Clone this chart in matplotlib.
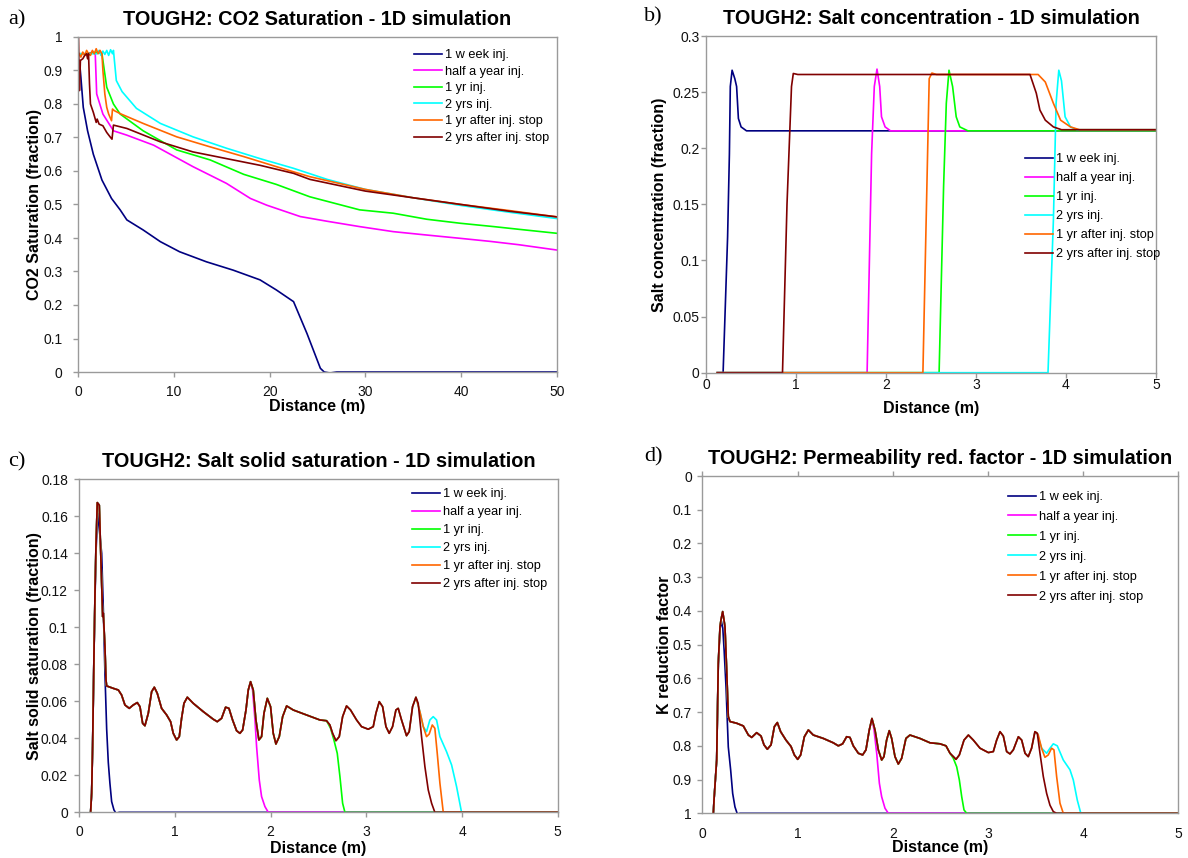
import matplotlib
matplotlib.use("Agg")
import matplotlib.pyplot as plt
import numpy as np
from matplotlib.ticker import FuncFormatter, MultipleLocator

plt.rcParams["font.family"] = ["Liberation Sans", "DejaVu Sans"]

W, H = 1188, 858

labels = ["1 w eek inj.", "half a year inj.", "1 yr inj.", "2 yrs inj.",
          "1 yr after inj. stop", "2 yrs after inj. stop"]
colors = ["#000080", "#FF00FF", "#00FF00", "#00FFFF", "#FF6600", "#800000"]

# ---- a) CO2 saturation, distance 0-50 m ----
co2_week_x = [0.15, 0.3, 0.55, 1.0, 1.6, 2.5, 3.5, 4.4, 5.1, 6.8, 8.6, 10.6, 13.4, 16.2, 19.0,
              20.7, 22.5, 23.9, 25.3, 25.7, 26.3, 27.0, 50.0]
co2_week_y = [0.93, 0.88, 0.79, 0.72, 0.65, 0.573, 0.518, 0.484, 0.454, 0.424, 0.389, 0.359, 0.329,
              0.304, 0.275, 0.245, 0.21, 0.115, 0.011, 0.0, -0.003, 0.0, 0.0]
co2_half_x = [0.1, 0.5, 1.0, 1.5, 1.8, 1.95, 2.6, 3.7, 5.1, 7.9, 12.0, 15.5, 18.0, 19.7, 23.2, 26.0,
              29.4, 32.9, 36.0, 39.9, 43.0, 46.0, 50.0]
co2_half_y = [0.95, 0.95, 0.95, 0.955, 0.95, 0.83, 0.77, 0.72, 0.707, 0.677, 0.613, 0.563, 0.518,
              0.498, 0.464, 0.45, 0.434, 0.419, 0.41, 0.399, 0.39, 0.38, 0.364]
co2_1yr_x = [0.1, 1.0, 2.0, 2.5, 3.0, 3.7, 4.4, 6.8, 10.3, 13.8, 17.3, 20.7, 24.2, 29.4, 32.9, 36.4,
             39.9, 43.4, 46.0, 50.0]
co2_1yr_y = [0.95, 0.95, 0.955, 0.95, 0.85, 0.80, 0.77, 0.72, 0.663, 0.633, 0.59, 0.56, 0.523, 0.484,
             0.474, 0.456, 0.444, 0.434, 0.426, 0.414]
co2_2yr_x = [0.1, 2.0, 2.2, 2.4, 2.6, 2.8, 3.0, 3.2, 3.4, 3.6, 3.7, 4.0, 4.6, 6.1, 8.6, 12.0, 15.5,
             19.0, 22.5, 26.0, 30.0, 35.0, 40.0, 45.0, 50.0]
co2_2yr_y = [0.95, 0.95, 0.96, 0.945, 0.958, 0.948, 0.96, 0.945, 0.962, 0.95, 0.96, 0.87, 0.837,
             0.787, 0.742, 0.702, 0.668, 0.637, 0.608, 0.575, 0.545, 0.52, 0.497, 0.477, 0.458]
co2_1after_x = [0.1, 0.3, 0.5, 0.7, 0.9, 1.1, 1.3, 1.5, 1.7, 1.9, 2.1, 2.3, 2.5, 2.6, 2.8, 3.0, 3.2,
                3.5, 3.6, 3.8, 4.5, 6.8, 10.3, 13.8, 17.3, 20.7, 24.2, 30.0, 35.0, 40.0, 45.0, 50.0]
co2_1after_y = [0.95, 0.94, 0.955, 0.945, 0.96, 0.95, 0.945, 0.96, 0.95, 0.965, 0.95, 0.96, 0.95,
                0.90, 0.83, 0.79, 0.77, 0.75, 0.785, 0.78, 0.77, 0.742, 0.702, 0.672, 0.643, 0.613,
                0.583, 0.545, 0.52, 0.50, 0.482, 0.463]
co2_2after_x = [0.05, 0.15, 0.25, 0.5, 0.7, 0.9, 1.0, 1.1, 1.2, 1.3, 1.6, 1.9, 2.0, 2.2, 2.6, 3.0,
                3.4, 3.55, 3.7, 5.1, 8.6, 12.0, 15.5, 19.0, 22.5, 24.2, 30.0, 35.0, 40.0, 45.0, 50.0]
co2_2after_y = [1.0, 0.84, 0.93, 0.935, 0.945, 0.95, 0.935, 0.95, 0.86, 0.80, 0.775, 0.745, 0.755,
                0.74, 0.735, 0.715, 0.70, 0.695, 0.737, 0.727, 0.687, 0.657, 0.637, 0.617, 0.593,
                0.575, 0.54, 0.52, 0.50, 0.48, 0.463]

# ---- b) salt concentration, distance 0-5 m ----
salt_week_x = [0.125, 0.19, 0.24, 0.26, 0.27, 0.29, 0.32, 0.34, 0.36, 0.39, 0.45, 5.0]
salt_week_y = [0, 0, 0.121, 0.195, 0.255, 0.2695, 0.262, 0.255, 0.2265, 0.219, 0.2155, 0.2155]
salt_half_x = [0.125, 1.79, 1.84, 1.87, 1.90, 1.93, 1.95, 1.99, 2.05, 5.0]
salt_half_y = [0, 0, 0.195, 0.255, 0.2705, 0.255, 0.228, 0.219, 0.2155, 0.2155]
salt_1yr_x = [0.125, 2.59, 2.64, 2.67, 2.70, 2.74, 2.78, 2.82, 2.91, 5.0]
salt_1yr_y = [0, 0, 0.166, 0.24, 0.2695, 0.255, 0.228, 0.219, 0.2155, 0.2155]
salt_2yr_x = [0.125, 3.80, 3.86, 3.89, 3.92, 3.95, 3.99, 4.05, 4.12, 5.0]
salt_2yr_y = [0, 0, 0.136, 0.24, 0.2695, 0.26, 0.228, 0.219, 0.2165, 0.2165]
salt_1after_x = [0.125, 2.41, 2.45, 2.48, 2.51, 2.56, 3.69, 3.77, 3.86, 3.94, 4.05, 4.15, 5.0]
salt_1after_y = [0, 0, 0.15, 0.262, 0.267, 0.2657, 0.2657, 0.259, 0.240, 0.225, 0.219, 0.2165, 0.2165]
salt_2after_x = [0.125, 0.85, 0.90, 0.95, 0.97, 1.02, 3.60, 3.67, 3.71, 3.77, 3.86, 3.95, 5.0]
salt_2after_y = [0, 0, 0.15, 0.255, 0.2666, 0.2657, 0.2657, 0.249, 0.234, 0.225, 0.219, 0.2165, 0.2165]

# ---- c) salt solid saturation: common profile left behind, plus each front ----
solid_base = np.array([
    [0.118, 0.0], [0.129, 0.0103], [0.139, 0.0355], [0.153, 0.084], [0.164, 0.118],
    [0.174, 0.1436], [0.188, 0.1674], [0.209, 0.166], [0.223, 0.1418], [0.244, 0.1058],
    [0.251, 0.1076], [0.268, 0.0895], [0.279, 0.0715], [0.286, 0.0683], [0.355, 0.067],
    [0.408, 0.0661], [0.442, 0.0634], [0.477, 0.058], [0.522, 0.0562], [0.564, 0.058],
    [0.606, 0.0593], [0.634, 0.0571], [0.662, 0.0481], [0.686, 0.0468], [0.721, 0.0535],
    [0.756, 0.0652], [0.784, 0.0676], [0.815, 0.0643], [0.860, 0.0562], [0.913, 0.0526],
    [0.954, 0.049], [0.982, 0.0427], [1.017, 0.0391], [1.045, 0.0409], [1.069, 0.0508],
    [1.094, 0.0589], [1.129, 0.0622], [1.191, 0.0589], [1.296, 0.0544], [1.400, 0.0503],
    [1.442, 0.049], [1.487, 0.0508], [1.529, 0.0568], [1.564, 0.0562], [1.602, 0.0499],
    [1.644, 0.0441], [1.679, 0.0427], [1.707, 0.0445], [1.742, 0.0553], [1.766, 0.0661],
    [1.790, 0.0706], [1.818, 0.0661], [1.846, 0.0499], [1.877, 0.0391], [1.905, 0.0409],
    [1.930, 0.0535], [1.965, 0.0616], [1.999, 0.0571], [2.027, 0.0427], [2.055, 0.0369],
    [2.090, 0.0409], [2.125, 0.0517], [2.167, 0.0575], [2.236, 0.0553], [2.375, 0.0526],
    [2.515, 0.0499], [2.584, 0.0495], [2.619, 0.0472], [2.647, 0.0427], [2.682, 0.0387],
    [2.717, 0.0409], [2.752, 0.0517], [2.793, 0.0575], [2.835, 0.0553], [2.898, 0.0499],
    [2.950, 0.0463], [3.020, 0.0449], [3.072, 0.0463], [3.100, 0.0535], [3.135, 0.0598],
    [3.170, 0.0571], [3.205, 0.0463], [3.239, 0.0427], [3.274, 0.0463], [3.309, 0.0553],
    [3.333, 0.0562], [3.368, 0.0499], [3.420, 0.0414], [3.448, 0.0436], [3.483, 0.0571],
    [3.518, 0.0622],
])
solid_week = np.array([
    [0.118, 0.0], [0.129, 0.0103], [0.139, 0.0355], [0.153, 0.084], [0.164, 0.115],
    [0.174, 0.140], [0.192, 0.1616], [0.234, 0.140], [0.251, 0.110], [0.268, 0.075],
    [0.286, 0.045], [0.303, 0.027], [0.320, 0.0157], [0.338, 0.0058], [0.362, 0.0013],
    [0.383, -0.0005], [0.418, 0.0], [5.0, 0.0],
])
solid_half_tail = np.array([[1.811, 0.0661], [1.836, 0.0499], [1.853, 0.0355], [1.881, 0.0175],
                            [1.905, 0.0085], [1.940, 0.0031], [1.975, 0.0], [5.0, 0.0]])
solid_1yr_tail = np.array([[2.626, 0.0454], [2.661, 0.0391], [2.696, 0.0319], [2.724, 0.0193],
                           [2.752, 0.0049], [2.776, 0.0], [5.0, 0.0]])
solid_2yr_tail = np.array([[3.560, 0.0544], [3.595, 0.0463], [3.629, 0.0436], [3.664, 0.0499],
                           [3.699, 0.0517], [3.734, 0.0499], [3.769, 0.0409], [3.838, 0.0328],
                           [3.891, 0.0256], [3.943, 0.0139], [3.995, 0.0], [5.0, 0.0]])
solid_1after_tail = np.array([[3.560, 0.0544], [3.595, 0.0463], [3.629, 0.0409], [3.657, 0.0423],
                              [3.689, 0.0472], [3.716, 0.0454], [3.741, 0.0319], [3.769, 0.0157],
                              [3.804, 0.0], [5.0, 0.0]])
solid_2after_tail = np.array([[3.542, 0.0589], [3.577, 0.0409], [3.612, 0.0247], [3.647, 0.0121],
                              [3.682, 0.0049], [3.716, 0.0], [5.0, 0.0]])
solid_cut = [None, 1.790, 2.584, 3.518, 3.518, 3.518]

# ---- d) permeability reduction factor ----
perm_base = np.array([
    [0.116, 1.0], [0.123, 0.961], [0.151, 0.842], [0.168, 0.555], [0.186, 0.447],
    [0.196, 0.427], [0.214, 0.402], [0.228, 0.427], [0.238, 0.447], [0.256, 0.575],
    [0.273, 0.713], [0.291, 0.728], [0.361, 0.733], [0.431, 0.741], [0.484, 0.768],
    [0.519, 0.775], [0.571, 0.761], [0.617, 0.771], [0.648, 0.797], [0.683, 0.810],
    [0.722, 0.797], [0.757, 0.743], [0.788, 0.731], [0.823, 0.758], [0.879, 0.783],
    [0.932, 0.802], [0.967, 0.827], [1.002, 0.840], [1.033, 0.827], [1.072, 0.773],
    [1.114, 0.753], [1.166, 0.768], [1.271, 0.778], [1.376, 0.791], [1.429, 0.800],
    [1.474, 0.794], [1.516, 0.773], [1.551, 0.775], [1.586, 0.800], [1.639, 0.822],
    [1.684, 0.827], [1.719, 0.812], [1.754, 0.753], [1.782, 0.719], [1.814, 0.753],
    [1.849, 0.812], [1.884, 0.842], [1.908, 0.832], [1.936, 0.783], [1.964, 0.755],
    [1.989, 0.778], [2.024, 0.832], [2.059, 0.854], [2.094, 0.837], [2.139, 0.778],
    [2.181, 0.768], [2.286, 0.778], [2.392, 0.791], [2.497, 0.794], [2.560, 0.800],
    [2.602, 0.822], [2.637, 0.832], [2.665, 0.840], [2.700, 0.827], [2.749, 0.783],
    [2.795, 0.768], [2.847, 0.783], [2.917, 0.807], [3.005, 0.820], [3.057, 0.817],
    [3.092, 0.783], [3.127, 0.758], [3.162, 0.771], [3.197, 0.817], [3.232, 0.824],
    [3.267, 0.812], [3.320, 0.773], [3.355, 0.783], [3.390, 0.822], [3.424, 0.832],
    [3.459, 0.807], [3.494, 0.758], [3.519, 0.763],
])
perm_week = np.array([
    [0.116, 1.0], [0.123, 0.961], [0.151, 0.842], [0.168, 0.56], [0.186, 0.455],
    [0.200, 0.43], [0.215, 0.45], [0.230, 0.52], [0.249, 0.625], [0.273, 0.803],
    [0.298, 0.872], [0.319, 0.941], [0.343, 0.981], [0.368, 1.002], [0.396, 1.0], [5.0, 1.0],
])
perm_half_tail = np.array([[1.804, 0.753], [1.832, 0.822], [1.860, 0.911], [1.884, 0.951],
                           [1.919, 0.985], [1.954, 1.0], [5.0, 1.0]])
perm_1yr_tail = np.array([[2.637, 0.837], [2.672, 0.862], [2.700, 0.901], [2.725, 0.951],
                          [2.749, 0.990], [2.777, 1.0], [5.0, 1.0]])
perm_2yr_tail = np.array([[3.545, 0.790], [3.564, 0.807], [3.617, 0.822], [3.652, 0.807],
                          [3.687, 0.794], [3.729, 0.800], [3.792, 0.842], [3.862, 0.871],
                          [3.897, 0.901], [3.939, 0.961], [3.974, 0.998], [4.002, 1.0], [5.0, 1.0]])
perm_1after_tail = np.array([[3.529, 0.768], [3.564, 0.807], [3.599, 0.834], [3.634, 0.827],
                             [3.669, 0.807], [3.694, 0.812], [3.722, 0.891], [3.757, 0.970],
                             [3.792, 1.0], [5.0, 1.0]])
perm_2after_tail = np.array([[3.547, 0.822], [3.582, 0.891], [3.617, 0.941], [3.652, 0.976],
                             [3.687, 0.995], [3.722, 1.0], [5.0, 1.0]])
perm_cut = [None, 1.782, 2.602, 3.519, 3.519, 3.519]


def front_series(base, cut, tail):
    return np.vstack([base[base[:, 0] <= cut], tail])


def fig_rect(left, top, right, bottom):
    return [left / W, 1 - bottom / H, (right - left) / W, (bottom - top) / H]


def style(ax, ylabel, ypad, xpad, ylab_x, xlab_y, rect):
    # ylab_x: right edge of the rotated y label, xlab_y: top of the x label (pixels)
    left, top, right, bottom = rect
    for s in ax.spines.values():
        s.set_color("#9a9a9a")
        s.set_linewidth(1.0)
    ax.tick_params(direction="out", length=3.5, width=1.0, color="#9a9a9a", labelsize=10,
                   labelcolor="#111111")
    ax.tick_params(axis="y", pad=ypad)
    ax.tick_params(axis="x", pad=xpad)
    fmt = FuncFormatter(lambda v, p: f"{v:g}")
    ax.xaxis.set_major_formatter(fmt)
    ax.yaxis.set_major_formatter(fmt)
    ax.set_xlabel("Distance (m)", fontsize=11.5, fontweight="bold")
    ax.set_ylabel(ylabel, fontsize=11.5, fontweight="bold")
    ax.yaxis.set_label_coords((ylab_x - left) / (right - left), 0.5)
    ax.xaxis.set_label_coords(0.5, (bottom - xlab_y) / (bottom - top))


def add_legend(ax, x_px, y_px, spacing):
    ax.legend(loc="upper left", bbox_to_anchor=(x_px / W, 1 - y_px / H),
              bbox_transform=fig.transFigure, frameon=False, fontsize=9.2,
              handlelength=2.2, handletextpad=0.25, borderpad=0, borderaxespad=0,
              labelspacing=spacing)


fig = plt.figure(figsize=(W / 100, H / 100), dpi=100)
lw = 1.2
title_kw = dict(fontsize=14.3, fontweight="bold", pad=8.5)

# a)
rect_a = (78, 37, 557, 372)
ax = fig.add_axes(fig_rect(*rect_a))
co2 = [(co2_week_x, co2_week_y), (co2_half_x, co2_half_y), (co2_1yr_x, co2_1yr_y),
       (co2_2yr_x, co2_2yr_y), (co2_1after_x, co2_1after_y), (co2_2after_x, co2_2after_y)]
for (x, y), c, lab in zip(co2, colors, labels):
    ax.plot(x, y, color=c, lw=lw, label=lab)
ax.set_xlim(0, 50)
ax.set_ylim(0, 1)
ax.xaxis.set_major_locator(MultipleLocator(10))
ax.yaxis.set_major_locator(MultipleLocator(0.1))
style(ax, "CO2 Saturation (fraction)", 7.5, 5.5, 42, 399, rect_a)
ax.set_title("TOUGH2: CO2 Saturation - 1D simulation", **title_kw)
add_legend(ax, 414, 49, 0.36)

# b)
rect_b = (706, 36, 1156, 372.7)
ax = fig.add_axes(fig_rect(*rect_b))
salt = [(salt_week_x, salt_week_y), (salt_half_x, salt_half_y), (salt_1yr_x, salt_1yr_y),
        (salt_2yr_x, salt_2yr_y), (salt_1after_x, salt_1after_y), (salt_2after_x, salt_2after_y)]
for (x, y), c, lab in zip(salt, colors, labels):
    ax.plot(x, y, color=c, lw=lw, label=lab)
ax.set_xlim(0, 5)
ax.set_ylim(0, 0.3)
ax.xaxis.set_major_locator(MultipleLocator(1))
ax.yaxis.set_major_locator(MultipleLocator(0.05))
style(ax, "Salt concentration (fraction)", 1.2, 0.3, 667, 401, rect_b)
ax.set_title("TOUGH2: Salt concentration - 1D simulation", **title_kw)
add_legend(ax, 1025, 153, 0.55)

# c)
rect_c = (79.3, 479.3, 557.7, 812.3)
ax = fig.add_axes(fig_rect(*rect_c))
solid_tails = [None, solid_half_tail, solid_1yr_tail, solid_2yr_tail, solid_1after_tail,
               solid_2after_tail]
for i, (c, lab) in enumerate(zip(colors, labels)):
    if i == 0:
        s = solid_week
    else:
        s = front_series(solid_base, solid_cut[i], solid_tails[i])
    ax.plot(s[:, 0], s[:, 1], color=c, lw=lw, label=lab)
ax.set_xlim(0, 5)
ax.set_ylim(0, 0.18)
ax.xaxis.set_major_locator(MultipleLocator(1))
ax.yaxis.set_major_locator(MultipleLocator(0.02))
style(ax, "Salt solid saturation (fraction)", 4.7, 5.3, 42, 841, rect_c)
ax.set_title("TOUGH2: Salt solid saturation - 1D simulation", **title_kw)
add_legend(ax, 412, 488, 0.47)

# d)
rect_d = (702.3, 476, 1178.3, 813.3)
ax = fig.add_axes(fig_rect(*rect_d))
perm_tails = [None, perm_half_tail, perm_1yr_tail, perm_2yr_tail, perm_1after_tail,
              perm_2after_tail]
for i, (c, lab) in enumerate(zip(colors, labels)):
    if i == 0:
        s = perm_week
    else:
        s = front_series(perm_base, perm_cut[i], perm_tails[i])
    ax.plot(s[:, 0], s[:, 1], color=c, lw=lw, label=lab)
ax.set_xlim(0, 5)
ax.set_ylim(1, 0)
ax.xaxis.set_major_locator(MultipleLocator(1))
ax.yaxis.set_major_locator(MultipleLocator(0.1))
style(ax, "K reduction factor", 4.0, 6.5, 672, 840, rect_d)
ax.tick_params(axis="x", top=True, bottom=False)
ax.set_title("TOUGH2: Permeability red. factor - 1D simulation", **title_kw)
add_legend(ax, 1008, 491, 0.62)

# panel letters
for txt, xp, yp in [("a)", 8, 20), ("b)", 644, 17), ("c)", 8, 462), ("d)", 644, 457)]:
    fig.text(xp / W, 1 - yp / H, txt, fontsize=16, family="Liberation Serif", va="center")

fig.savefig("out.png", dpi=100)
